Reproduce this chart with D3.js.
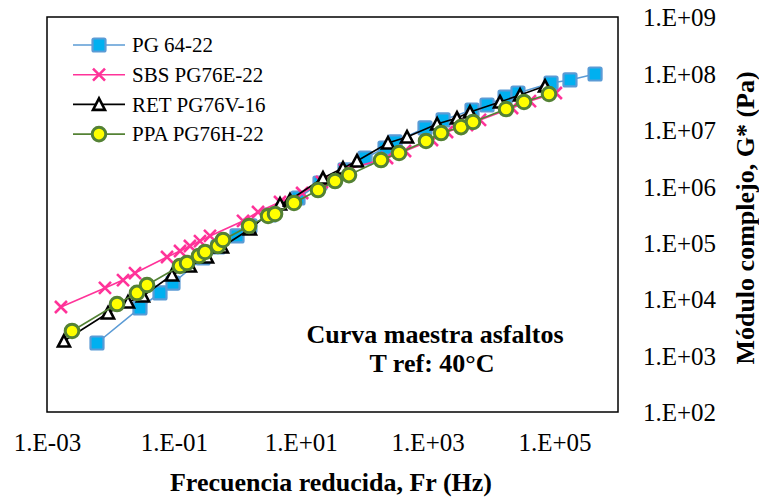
<!DOCTYPE html>
<html>
<head>
<meta charset="utf-8">
<script src="https://cdn.jsdelivr.net/npm/d3@7"></script>
<style>
  body { margin: 0; background: #fff; }
  text { font-family: "Liberation Serif", "Times New Roman", serif; fill: #000; }
</style>
</head>
<body>
<div id="chart"></div>
<script>
// data: [frequency Hz, |G*| Pa]
var pg6422 = [[0.00614,1670],[0.0292,6970],[0.0604,12900],[0.0968,19300],[0.288,53600],[0.495,84000],
    [0.989,132000],[1.58,198000],[3.27,310000],[9.04,620000],[20.1,1.14e6],[49.8,1.95e6],[103,3.17e6],
    [213,4.77e6],[306,6.10e6],[908,1.08e7],[1750,1.50e7],[5000,2.25e7],[8630,2.76e7],[16600,3.82e7],
    [26500,4.50e7],[88000,6.76e7],[175000,7.66e7],[435000,9.77e7]]
var sbs76 = [[0.00166,7260],[0.0082,15800],[0.0158,21800],[0.0244,29000],[0.078,55800],[0.125,71300],
    [0.179,87500],[0.258,107000],[0.371,132000],[1.23,243000],[2.12,350000],[4.71,527000],[10.5,760000],
    [21.6,1.19e6],[49.8,1.95e6],[229,3.17e6],[440,4.22e6],[1170,6.61e6],[2020,9.16e6],[4170,1.22e7],
    [6690,1.50e7],[21400,2.44e7],[41000,3.24e7],[105000,4.50e7]]
var ret76 = [[0.00185,1810],[0.00916,5690],[0.0189,8900],[0.0326,11400],[0.0933,26800],[0.179,38700],
    [0.333,55800],[0.573,84000],[1.58,175000],[4.71,485000],[6.76,571000],[22.4,1.40e6],[46.3,2.11e6],
    [76.9,2.81e6],[237,5.85e6],[473,7.47e6],[1410,1.27e7],[2900,1.62e7],[4650,2.07e7],[13800,3.12e7],
    [28600,4.15e7],[70800,5.98e7]]
var ppa76 = [[0.00248,2730],[0.0127,8200],[0.0262,12900],[0.0377,17800],[0.125,38700],[0.161,43700],
    [0.249,58200],[0.310,68500],[0.495,87500],[0.594,112000],[1.53,198000],[3.05,298000],[3.93,323000],
    [7.82,506000],[18.7,859000],[34.7,1.24e6],[57.5,1.58e6],[184,2.92e6],[354,3.89e6],[942,6.35e6],
    [1630,8.79e6],[3360,1.12e7],[5190,1.38e7],[17200,2.34e7],[33000,3.12e7],[81800,4.32e7]]

var seriesNames = ["PG 64-22", "SBS PG76E-22", "RET PG76V-16", "PPA PG76H-22"]
var xTicks = [1e-3, 1e-1, 1e1, 1e3, 1e5]
var yTicks = [1e2, 1e3, 1e4, 1e5, 1e6, 1e7, 1e8, 1e9]
var xTickLabels = ["1.E-03", "1.E-01", "1.E+01", "1.E+03", "1.E+05"]
var yTickLabels = ["1.E+02", "1.E+03", "1.E+04", "1.E+05", "1.E+06", "1.E+07", "1.E+08", "1.E+09"]

var w = 759
var h = 499
var plotLeft = 47, plotRight = 618, plotTop = 17, plotBottom = 412

var svg = d3.select("#chart")
    .append("svg")
    .attr("width", w)
    .attr("height", h)

var x = d3.scaleLog().domain([1e-3, 1e6]).range([plotLeft, plotRight])
var y = d3.scaleLog().domain([1e2, 1e9]).range([plotBottom, plotTop])

// plot frame
svg.append("rect")
    .attr("x", plotLeft).attr("y", plotTop)
    .attr("width", plotRight - plotLeft).attr("height", plotBottom - plotTop)
    .attr("fill", "none").attr("stroke", "#000").attr("stroke-width", 1.5)

// axes, labels only
var xAxis = svg.append("g")
    .attr("transform", "translate(0," + plotBottom + ")")
    .call(d3.axisBottom(x).tickValues(xTicks).tickSize(0).tickPadding(0)
        .tickFormat(function(d, i) { return xTickLabels[i] }))
xAxis.select(".domain").remove()
xAxis.selectAll("text")
    .attr("y", 39).attr("dy", null)
    .style("font-family", "Liberation Serif").style("font-size", "25px")

var yAxis = svg.append("g")
    .attr("transform", "translate(" + plotRight + ",0)")
    .call(d3.axisRight(y).tickValues(yTicks).tickSize(0).tickPadding(0)
        .tickFormat(function(d, i) { return yTickLabels[i] }))
yAxis.select(".domain").remove()
yAxis.selectAll("text")
    .attr("x", 25).attr("dy", "0.35em")
    .style("font-family", "Liberation Serif").style("font-size", "25px")

// titles
svg.append("text")
    .attr("x", 331).attr("y", 491)
    .attr("text-anchor", "middle")
    .style("font-size", "26px").style("font-weight", "bold")
    .text("Frecuencia reducida, Fr (Hz)")

svg.append("text")
    .attr("transform", "translate(754,218) rotate(-90)")
    .attr("text-anchor", "middle")
    .style("font-size", "26px").style("font-weight", "bold")
    .text("Módulo complejo, G* (Pa)")

svg.append("text")
    .attr("x", 435).attr("y", 343)
    .attr("text-anchor", "middle")
    .style("font-size", "26px").style("font-weight", "bold")
    .text("Curva maestra asfaltos")

svg.append("text")
    .attr("x", 432).attr("y", 372)
    .attr("text-anchor", "middle")
    .style("font-size", "26px").style("font-weight", "bold")
    .text("T ref: 40°C")

// series styles
var styles = [
    { data: pg6422, line: "#5B9BD5", marker: "square" },
    { data: sbs76, line: "#FF3399", marker: "cross" },
    { data: ret76, line: "#000000", marker: "triangle" },
    { data: ppa76, line: "#548235", marker: "circle" }
]

var line = d3.line()
    .x(function(d) { return x(d[0]) })
    .y(function(d) { return y(d[1]) })

function drawMarker(g, type) {
    if (type == "square") {
        g.append("rect")
            .attr("x", -6.5).attr("y", -6.5).attr("width", 13).attr("height", 13)
            .attr("rx", 1.5)
            .attr("fill", "#00B0F0").attr("stroke", "#5B9BD5").attr("stroke-width", 2.2)
    } else if (type == "cross") {
        g.append("path")
            .attr("d", "M-6,-6L6,6M-6,6L6,-6")
            .attr("stroke", "#FF3399").attr("stroke-width", 2.6).attr("fill", "none")
    } else if (type == "triangle") {
        g.append("path")
            .attr("d", "M0,-6L6,5.5L-6,5.5Z")
            .attr("fill", "#fff").attr("stroke", "#000").attr("stroke-width", 2.6)
    } else {
        g.append("circle")
            .attr("r", 6.8)
            .attr("fill", "#FFFF00").attr("stroke", "#548235").attr("stroke-width", 3)
    }
}

styles.forEach(function(s) {
    svg.append("path")
        .attr("d", line(s.data))
        .attr("fill", "none")
        .attr("stroke", s.line)
        .attr("stroke-width", 1.6)

    svg.selectAll(null)
        .data(s.data)
        .enter()
        .append("g")
        .attr("transform", function(d) { return "translate(" + x(d[0]) + "," + y(d[1]) + ")" })
        .each(function() { drawMarker(d3.select(this), s.marker) })
})

// legend
var legend = svg.append("g")
styles.forEach(function(s, i) {
    var ly = 45 + i * 29.7
    legend.append("line")
        .attr("x1", 73).attr("x2", 125).attr("y1", ly).attr("y2", ly)
        .attr("stroke", s.line).attr("stroke-width", 1.6)
    var m = legend.append("g").attr("transform", "translate(99," + ly + ")")
    drawMarker(m, s.marker)
    legend.append("text")
        .attr("x", 132).attr("y", ly).attr("dy", "0.35em")
        .style("font-size", "21px")
        .text(seriesNames[i])
})
</script>
</body>
</html>
